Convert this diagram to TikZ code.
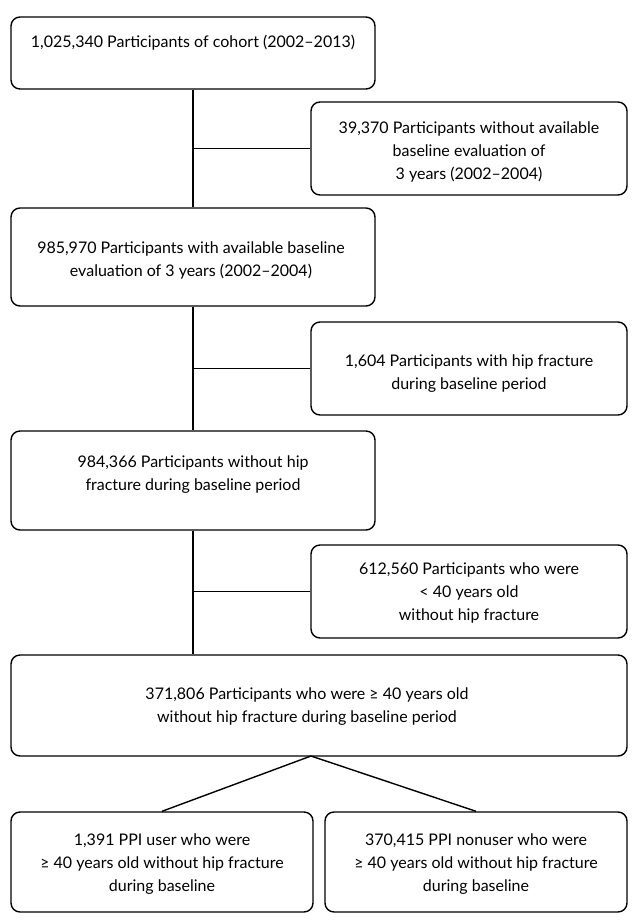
\documentclass[tikz,border=0pt]{standalone}
\usepackage{fontspec}
\setmainfont{Lato}
\usetikzlibrary{positioning}

\begin{document}
\begin{tikzpicture}[
    x=1pt, y=-1pt,
    font=\fontsize{16}{23}\selectfont,
    block/.style={rectangle, draw, line width=1.4pt, rounded corners=9pt},
    label/.style={align=center, inner sep=0pt},
    line/.style={draw, line width=1.4pt}
]
    \useasboundingbox (0,0) rectangle (636,922);

    % Nodes
    \node [block, minimum width=364, minimum height=72] (cohort) at (193,53) {};
    \node [label] (cohorttxt) at (193,43) {1,025,340 Participants of cohort (2002--2013)};

    \node [block, minimum width=316, minimum height=93] (noeval) at (469,148.5) {};
    \node [label] (noevaltxt) at (469,152) {39,370 Participants without available\\baseline evaluation of\\3 years (2002--2004)};

    \node [block, minimum width=364, minimum height=98] (baseline) at (193,257) {};
    \node [label] (baselinetxt) at (191,260.5) {985,970 Participants with available baseline\\evaluation of 3 years (2002--2004)};

    \node [block, minimum width=316, minimum height=93] (hipfx) at (469,368.5) {};
    \node [label] (hipfxtxt) at (469,374) {1,604 Participants with hip fracture\\during baseline period};

    \node [block, minimum width=364, minimum height=99] (nohip) at (193,480.5) {};
    \node [label] (nohiptxt) at (193,474.5) {984,366 Participants without hip\\fracture during baseline period};

    \node [block, minimum width=316, minimum height=93] (young) at (469,591.5) {};
    \node [label] (youngtxt) at (469,593) {612,560 Participants who were\\< 40 years old\\without hip fracture};

    \node [block, minimum width=616, minimum height=101] (older) at (319,705.5) {};
    \node [label] (oldertxt) at (307,706.5) {371,806 Participants who were ≥ 40 years old\\without hip fracture during baseline period};

    \node [block, minimum width=302, minimum height=100] (ppiuser) at (162,862) {};
    \node [label] (ppiusertxt) at (162,864) {1,391 PPI user who were\\≥ 40 years old without hip fracture\\during baseline};

    \node [block, minimum width=302, minimum height=100] (nonuser) at (476,862) {};
    \node [label] (nonusertxt) at (476,864) {370,415 PPI nonuser who were\\≥ 40 years old without hip fracture\\during baseline};

    \coordinate (split) at (311,756);

    % Edges
    \path [line] (cohort) -- (baseline);
    \path [line] (noeval.west) -- (noeval.west -| cohort.south);
    \path [line] (baseline) -- (nohip);
    \path [line] (hipfx.west) -- (hipfx.west -| baseline.south);
    \path [line] (nohip.south) -- (nohip.south |- older.north);
    \path [line] (young.west) -- (young.west -| nohip.south);
    \path [line] (ppiuser.north) -- (split) -- (nonuser.north);
\end{tikzpicture}
\end{document}
